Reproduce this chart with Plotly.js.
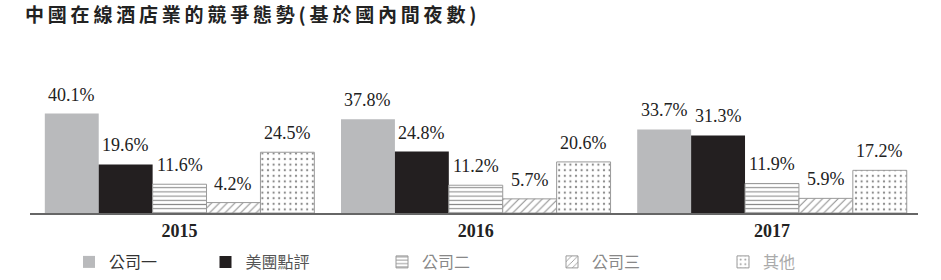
<!DOCTYPE html>
<html>
<head>
<meta charset="utf-8">
<script src="https://cdn.plot.ly/plotly-3.0.1.min.js"></script>
<style>
  html, body { margin: 0; padding: 0; background: #fff; }
  #chart { width: 941px; height: 280px; }
  .gtitle { letter-spacing: 3.8px; }
</style>
</head>
<body>
<div id="chart"></div>
<script>
// ---- Data ----
const years = ['2015', '2016', '2017'];
const seriesNames = ['公司一', '美團點評', '公司二', '公司三', '其他'];
const company1 = [40.1, 37.8, 33.7];
const meituan = [19.6, 24.8, 31.3];
const company2 = [11.6, 11.2, 11.9];
const company3 = [4.2, 5.7, 5.9];
const others = [24.5, 20.6, 17.2];
const seriesValues = [company1, meituan, company2, company3, others];
const titleText = '中國在線酒店業的競爭態勢(基於國內間夜數)';

// ---- Styles ----
const bargap = 0.09;
const markers = [
  { color: '#b9babc', line: { width: 0 } },
  { color: '#231f20', line: { width: 0 } },
  { color: '#ffffff', line: { color: '#9a9a9a', width: 1 },
    pattern: { shape: '-', fgcolor: '#8a8a8a', bgcolor: '#ffffff', size: 4.2, solidity: 0.26, fillmode: 'replace' } },
  { color: '#ffffff', line: { color: '#9a9a9a', width: 1 },
    pattern: { shape: '/', fgcolor: '#8a8a8a', bgcolor: '#ffffff', size: 5.5, solidity: 0.18, fillmode: 'replace' } },
  { color: '#ffffff', line: { color: '#9a9a9a', width: 1 },
    pattern: { shape: '.', fgcolor: '#8a8a8a', bgcolor: '#ffffff', size: 5.6, solidity: 0.12, fillmode: 'replace' } }
];
const legendColors = ['#333333', '#555555', '#888888', '#888888', '#aaaaaa'];
const legendX = [69, 205.5, 382, 552, 723];
const legendIds = ['legend', 'legend2', 'legend3', 'legend4', 'legend5'];

const traces = seriesNames.map((name, i) => ({
  type: 'bar',
  name: name,
  x: years,
  y: seriesValues[i],
  marker: markers[i],
  legend: legendIds[i],
  hoverinfo: 'none'
}));

const w = (1 - bargap) / seriesNames.length;
const annotations = [];
seriesValues.forEach((vals, i) => {
  vals.forEach((v, j) => {
    annotations.push({
      x: j + (i - (seriesNames.length - 1) / 2) * w,
      y: v,
      xref: 'x', yref: 'y',
      text: v.toFixed(1) + '%',
      showarrow: false,
      yanchor: 'bottom',
      yshift: 7,
      font: { family: 'Liberation Serif, Times New Roman, serif', size: 18, color: '#222' }
    });
  });
});

const layout = {
  width: 941, height: 280,
  margin: { l: 30, r: 23, t: 89, b: 67, autoexpand: false },
  paper_bgcolor: '#fff', plot_bgcolor: '#fff',
  barmode: 'group', bargap: bargap, bargroupgap: 0,
  title: {
    text: titleText,
    xref: 'container', yref: 'container',
    x: 25 / 941, xanchor: 'left',
    y: 1 - 15 / 280, yanchor: 'middle',
    font: { family: 'Noto Sans CJK TC, sans-serif', size: 19, color: '#222', weight: 'bold' }
  },
  xaxis: {
    type: 'category',
    range: [-0.505, 2.493],
    showline: true, linecolor: '#666', linewidth: 2,
    ticks: '', showgrid: false, zeroline: false,
    ticklabelstandoff: 0,
    tickfont: { family: 'Liberation Serif, Times New Roman, serif', size: 18, color: '#222', weight: 'bold' },
    fixedrange: true
  },
  yaxis: { range: [0, 50], visible: false, showgrid: false, zeroline: false, fixedrange: true },
  annotations: annotations,
  showlegend: true
};
legendIds.forEach((id, i) => {
  layout[id] = {
    orientation: 'h',
    xref: 'container', yref: 'container',
    x: legendX[i] / 941, xanchor: 'left',
    y: 1 - 262 / 280, yanchor: 'middle',
    bgcolor: 'rgba(0,0,0,0)',
    itemwidth: 30,
    font: { family: 'Noto Sans CJK TC, sans-serif', size: 16, color: legendColors[i] }
  };
});

Plotly.newPlot('chart', traces, layout, { displayModeBar: false, staticPlot: true });
</script>
</body>
</html>
